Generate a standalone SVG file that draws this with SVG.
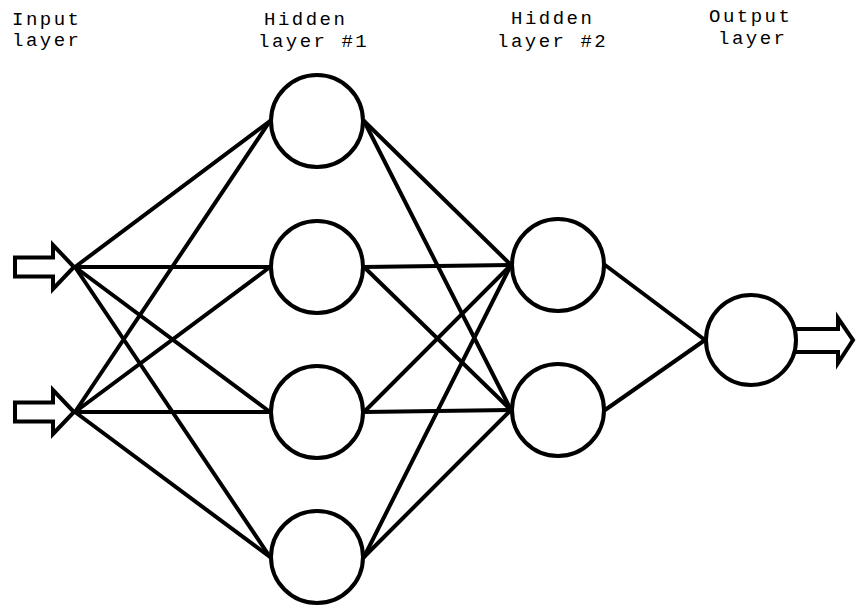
<svg xmlns="http://www.w3.org/2000/svg" width="856" height="607" viewBox="0 0 856 607">
<style>
.n{fill:#fff;stroke:#000;stroke-width:4}
.c line{stroke:#000;stroke-width:4;stroke-linecap:round}
.a{fill:#fff;stroke:#000;stroke-width:4;stroke-linejoin:miter}
text{font-family:"Liberation Mono","Courier New",monospace;font-size:19px;letter-spacing:2.5px;fill:#000}
</style>
<rect width="856" height="607" fill="#fff"/>
<g id="labels">
<text x="12" y="25">Input</text>
<text x="12" y="46">layer</text>
<text x="264" y="25">Hidden</text>
<text x="258" y="47">layer #1</text>
<text x="511" y="24">Hidden</text>
<text x="497" y="47">layer #2</text>
<text x="709" y="22">Output</text>
<text x="718" y="44">layer</text>
</g>
<g id="connectors" class="c">
<line x1="75" y1="267" x2="270" y2="121"/>
<line x1="75" y1="267" x2="270" y2="267"/>
<line x1="75" y1="267" x2="270" y2="412"/>
<line x1="75" y1="267" x2="270" y2="557"/>
<line x1="75" y1="412" x2="270" y2="121"/>
<line x1="75" y1="412" x2="270" y2="267"/>
<line x1="75" y1="412" x2="270" y2="412"/>
<line x1="75" y1="412" x2="270" y2="557"/>
<line x1="364" y1="121" x2="511" y2="265"/>
<line x1="364" y1="121" x2="511" y2="410"/>
<line x1="364" y1="267" x2="511" y2="265"/>
<line x1="364" y1="267" x2="511" y2="410"/>
<line x1="364" y1="412" x2="511" y2="265"/>
<line x1="364" y1="412" x2="511" y2="410"/>
<line x1="364" y1="557" x2="511" y2="265"/>
<line x1="364" y1="557" x2="511" y2="410"/>
<line x1="605" y1="265" x2="705" y2="340"/>
<line x1="605" y1="410" x2="705" y2="340"/>
</g>
<g id="input-arrow-1"><polygon class="a" points="15,257.5 53,257.5 53,245 74,267 53,289 53,276.5 15,276.5"/></g>
<g id="input-arrow-2"><polygon class="a" points="15,402.5 53,402.5 53,390 74,412 53,434 53,421.5 15,421.5"/></g>
<g id="output-arrow"><polygon class="a" points="790,329 838,329 838,318 853,340 838,363 838,352 790,352"/></g>
<g id="h1-1"><circle class="n" cx="317" cy="121" r="46"/></g>
<g id="h1-2"><circle class="n" cx="317" cy="267" r="46"/></g>
<g id="h1-3"><circle class="n" cx="317" cy="412" r="46"/></g>
<g id="h1-4"><circle class="n" cx="317" cy="557" r="46"/></g>
<g id="h2-1"><circle class="n" cx="558" cy="265" r="46"/></g>
<g id="h2-2"><circle class="n" cx="558" cy="410" r="46"/></g>
<g id="out"><circle class="n" cx="751" cy="340" r="45"/></g>
</svg>
